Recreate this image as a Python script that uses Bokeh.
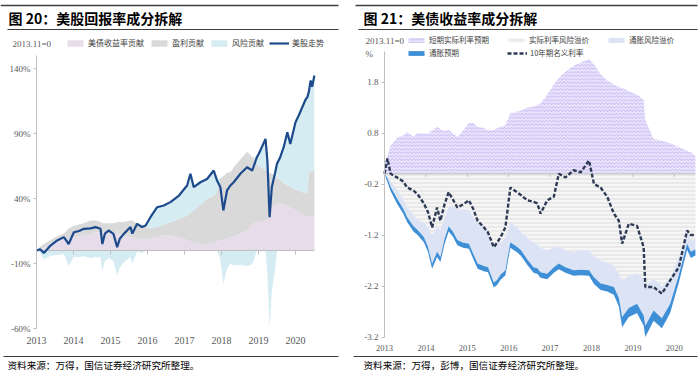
import numpy as np
from bokeh.plotting import figure
from bokeh.models import (Range1d, FixedTicker, PrintfTickFormatter, Label, Legend,
                          LegendItem, Arrow, LinearAxis)
from bokeh.layouts import row
from bokeh.embed import file_html
from bokeh.resources import INLINE

YEARS = [2013, 2014, 2015, 2016, 2017, 2018, 2019, 2020]

# ---------------- 图20 美股回报率成分拆解 (2013.11=0, %) ----------------
eq_t = [2013.00, 2013.10, 2013.20, 2013.38, 2013.56, 2013.74, 2013.87, 2014.01, 2014.15, 2014.28,
        2014.46, 2014.60, 2014.73, 2014.78, 2014.85, 2014.95, 2015.08, 2015.18, 2015.25, 2015.36,
        2015.54, 2015.59, 2015.72, 2015.85, 2015.95, 2016.08, 2016.26, 2016.44, 2016.62, 2016.85,
        2017.07, 2017.16, 2017.25, 2017.43, 2017.61, 2017.79, 2017.88, 2017.97, 2018.05, 2018.15,
        2018.24, 2018.33, 2018.51, 2018.69, 2018.83, 2018.96, 2019.01, 2019.19, 2019.24, 2019.30,
        2019.36, 2019.45, 2019.50, 2019.59, 2019.68, 2019.78, 2019.86, 2020.00, 2020.09, 2020.18,
        2020.27, 2020.32, 2020.36, 2020.41, 2020.45, 2020.51]
eq_stock = [0, 1, -2, 3.8, 7.7, 10.3, 5, 14, 15, 16.7,
            17, 18, 16.7, 5, 13, 15.4, 12.8, 2.6, 9, 12.8,
            18, 13, 20.5, 18, 19.2, 25.6, 33.3, 34.6, 37.2, 42.3,
            50, 59, 48.7, 52.5, 55, 61.5, 53.8, 48.7, 30.8, 46.2,
            50, 52.5, 59, 64, 61.5, 72, 74.4, 85.9, 69, 25.6,
            48.7, 60, 66.7, 72, 79.5, 91, 82, 98.7, 104, 110,
            116, 118, 122, 130.8, 126, 134.6]
eq_bond = [0, 1, 2, 5, 7, 8, 9, 10, 11, 12,
           13, 14, 14, 14, 14, 13.5, 13, 13, 12.5, 12,
           10, 10, 9.5, 9, 9, 9.5, 10, 11.5, 11.5, 10,
           8, 7, 6, 5, 5, 6, 7, 7.7, 8, 9,
           10, 11, 12.5, 16, 20, 22, 22, 23, 24, 30,
           33, 35, 35.5, 36, 35.5, 34.5, 33, 31, 29, 27.5,
           26, 25.6, 26, 26, 26.5, 27]
eq_earn = [0, 2, 3, 3, 4, 5, 8, 9, 9, 9,
           10, 9, 8, 7, 7, 7.5, 8, 9, 9.5, 10,
           13, 13, 11.5, 11, 9, 7.5, 8, 8.5, 10.5, 14,
           19, 22, 25, 30, 35, 36, 38, 48, 49, 51,
           50, 53, 57.5, 60, 52, 45, 43, 39, 37, 30,
           26, 22, 20.5, 18, 16.5, 15.5, 16, 16, 17, 17.5,
           18, 18.4, 34, 35, 34.5, 35]
eq_risk = [0, -2, -7, -4, -3.5, -2.5, -12, -5, -5, -4.5,
           -6, -5, -5.5, -16, -8, -5.5, -8, -19.5, -13, -9,
           -5, -10, -0.5, -2, 0, 8.6, 15.3, 14.6, 15.2, 18.3,
           23, 30, 17.7, 17.5, 15, 19.5, 8.8, -7, -26, -14,
           -10, -11.5, -11, -12, -10.5, 5, 9.4, 23.9, -18, -59,
           -31, -15, 10.7, 18, 27.5, 41, 33, 51.7, 58, 65,
           72, 74, 62, 69.8, 65, 72.6]
eq_ticks = [-60, -10, 40, 90, 140]

# ---------------- 图21 美债收益率成分拆解 (2013.11=0, %) ----------------
ust_t = [2013.0, 2013.07, 2013.15, 2013.3, 2013.45, 2013.55, 2013.7, 2013.8, 2013.95,
         2014.05, 2014.15, 2014.27, 2014.35, 2014.45, 2014.55, 2014.65, 2014.76, 2014.9,
         2015.04, 2015.15, 2015.25, 2015.4, 2015.5, 2015.64, 2015.72, 2015.8, 2015.92,
         2016.04, 2016.2, 2016.3, 2016.45, 2016.6, 2016.69, 2016.77, 2016.93,
         2017.09, 2017.21, 2017.37, 2017.57, 2017.74, 2017.94,
         2018.06, 2018.22, 2018.38, 2018.54, 2018.66, 2018.74, 2018.9,
         2019.1, 2019.26, 2019.3, 2019.5, 2019.7, 2019.9,
         2020.11, 2020.31, 2020.4, 2020.51]
ust_real_exp = [0.2, 0.35, 0.55, 0.7, 0.75, 0.82, 0.72, 0.8, 0.8,
                0.78, 0.85, 0.92, 0.88, 0.84, 0.86, 0.8, 0.72, 0.85,
                1.0, 1.0, 0.92, 0.9, 0.85, 0.86, 0.9, 0.92, 0.95,
                1.18, 1.22, 1.24, 1.3, 1.32, 1.35, 1.38, 1.55,
                1.75, 1.88, 2.0, 2.12, 2.18, 2.25,
                2.15, 1.95, 1.83, 1.75, 1.7, 1.68, 1.62,
                1.55, 1.45, 1.05, 0.68, 0.65, 0.6,
                0.52, 0.45, 0.42, 0.35]
ust_real_prem = [0, -0.05, -0.15, -0.3, -0.5, -0.65, -0.8, -0.9, -0.95,
                 -1.05, -1.2, -1.05, -1.1, -0.85, -0.65, -0.62, -0.7, -0.7,
                 -0.7, -0.85, -0.95, -1.05, -1.1, -1.45, -1.4, -1.35, -1.25,
                 -0.95, -1.05, -1.15, -1.25, -1.35, -1.38, -1.45, -1.5,
                 -1.45, -1.42, -1.5, -1.55, -1.5, -1.5,
                 -1.6, -1.7, -1.75, -1.8, -1.95, -2.1, -2.0,
                 -1.95, -2.05, -2.2, -2.05, -2.2, -2.05,
                 -1.65, -1.15, -1.3, -1.3]
ust_infl_prem = [0, -0.03, -0.11, -0.18, -0.18, -0.2, -0.23, -0.2, -0.29,
                 -0.38, -0.56, -0.48, -0.53, -0.43, -0.38, -0.51, -0.6, -0.65,
                 -0.67, -0.73, -0.81, -0.76, -0.73, -0.68, -0.68, -0.63, -0.64,
                 -0.39, -0.38, -0.35, -0.43, -0.48, -0.47, -0.48, -0.46,
                 -0.38, -0.34, -0.33, -0.34, -0.38, -0.39,
                 -0.43, -0.45, -0.43, -0.42, -0.48, -0.71, -0.63,
                 -0.6, -0.73, -0.78, -0.63, -0.63, -0.5,
                 -0.33, -0.22, -0.23, -0.18]
ust_infl_exp = [0, -0.08, -0.08, -0.1, -0.1, -0.1, -0.1, -0.1, -0.1,
                -0.1, -0.1, -0.1, -0.1, -0.1, -0.1, -0.1, -0.1, -0.1,
                -0.1, -0.1, -0.1, -0.1, -0.1, -0.1, -0.1, -0.1, -0.1,
                -0.11, -0.11, -0.11, -0.11, -0.11, -0.11, -0.11, -0.11,
                -0.11, -0.11, -0.11, -0.11, -0.11, -0.11,
                -0.13, -0.13, -0.13, -0.15, -0.17, -0.2, -0.18,
                -0.18, -0.2, -0.22, -0.2, -0.2, -0.18,
                -0.15, -0.12, -0.12, -0.12]
ust_nominal = [0.0, 0.3, 0.0, -0.07, -0.15, -0.27, -0.33, -0.4, -0.58,
               -0.75, -1.05, -0.66, -0.92, -0.6, -0.36, -0.5, -0.66, -0.6,
               -0.52, -0.7, -0.92, -1.05, -1.15, -1.44, -1.35, -1.25, -1.05,
               -0.27, -0.36, -0.42, -0.52, -0.55, -0.58, -0.78, -0.52,
               -0.45, 0.0, -0.07, 0.07, 0.03, 0.26,
               -0.2, -0.27, -0.45, -0.78, -0.92, -1.37, -0.98,
               -1.02, -1.44, -2.22, -2.22, -2.35, -2.09,
               -1.83, -1.11, -1.2, -1.2]
ust_ticks = [-3.2, -2.2, -1.2, -0.2, 0.8, 1.8]

CJK = "Noto Sans CJK SC"
NARROW = "Liberation Sans Narrow"
H = 372
AXIS_GRAY = "#bfbfbf"
TXT_GRAY = "#595959"
RULE = "#404040"


class Panel:
    """Figure whose frame fills the whole canvas; x0px/y0px = canvas pixel of (2013, 0)."""

    def __init__(self, width, x0px, ppx, y0px, ppy):
        self.w, self.x0px, self.ppx, self.y0px, self.ppy = width, x0px, ppx, y0px, ppy
        self.p = figure(width=width, height=H, output_backend="svg", toolbar_location=None,
                        x_range=Range1d(self.X(0), self.X(width)),
                        y_range=Range1d(self.Y(H), self.Y(0)),
                        x_axis_location=None, y_axis_location=None,
                        min_border=0, min_border_left=0, min_border_right=0,
                        min_border_top=0, min_border_bottom=0)
        self.p.outline_line_color = None
        self.p.grid.visible = False

    def X(self, px):
        return 2013.0 + (px - self.x0px) / self.ppx

    def Y(self, py):
        return (self.y0px - py) / self.ppy

    def text(self, px, py, s, size, font=CJK, style="normal", color="#000000"):
        self.p.add_layout(Label(x=self.X(px), y=self.Y(py), text=s, text_font=font,
                                text_font_size=size, text_font_style=style,
                                text_color=color, text_baseline="middle",
                                text_align="left"))

    def rule(self, px0, px1, py, color=RULE, width=1.0):
        self.p.add_layout(Arrow(end=None, x_start=self.X(px0), y_start=self.Y(py),
                                x_end=self.X(px1), y_end=self.Y(py),
                                line_color=color, line_width=width))

    def axes(self, ybounds, yticks, yfmt, x_end, tick_len_px, xlabel_size, xstandoff):
        ay = LinearAxis(fixed_location=2013.0, bounds=ybounds,
                        ticker=FixedTicker(ticks=yticks),
                        formatter=PrintfTickFormatter(format=yfmt),
                        axis_line_color=AXIS_GRAY, major_tick_line_color=AXIS_GRAY,
                        major_tick_in=0, major_tick_out=3, minor_tick_line_color=None,
                        major_label_text_font=NARROW, major_label_text_font_size="9px",
                        major_label_text_color=TXT_GRAY, major_label_standoff=3)
        self.p.add_layout(ay, "left")
        ax = LinearAxis(fixed_location=ybounds[0], ticker=FixedTicker(ticks=YEARS),
                        formatter=PrintfTickFormatter(format="%d"),
                        axis_line_color=None, major_tick_line_color=None,
                        major_tick_in=0, major_tick_out=0, minor_tick_line_color=None,
                        major_label_text_font=NARROW, major_label_text_font_size=xlabel_size,
                        major_label_text_color=TXT_GRAY, major_label_standoff=xstandoff)
        self.p.add_layout(ax, "below")
        # zero line with downward year ticks
        tl = tick_len_px / self.ppy
        self.p.segment(x0=[2013.0], x1=[x_end], y0=[0], y1=[0], line_color=AXIS_GRAY,
                       line_width=1)
        self.p.segment(x0=YEARS[1:], x1=YEARS[1:], y0=[0] * 7, y1=[-tl] * 7,
                       line_color=AXIS_GRAY, line_width=1)

    def legend(self, items, px, py_bottom, gh, size, spacing):
        lg = Legend(items=items, location=(px, H - py_bottom), orientation="horizontal",
                    glyph_width=20, glyph_height=gh, label_height=10, label_standoff=3,
                    label_text_font=CJK, label_text_font_size=size,
                    label_text_color="#404040", spacing=spacing, padding=0, margin=0,
                    border_line_color=None, background_fill_alpha=0)
        self.p.add_layout(lg)


# ---------------- left figure (page x 0..350) ----------------
L = Panel(350, 36, 37.0, 250, 1.3)
pl = L.p
t = np.array(eq_t)
b = np.array(eq_bond)
e = np.array(eq_earn)
r = np.array(eq_risk)
be = b + e
r_bond = pl.varea(x=t, y1=np.zeros_like(t), y2=b, fill_color="#e6dcea")
r_earn = pl.varea(x=t, y1=b, y2=be, fill_color="#d9d9d9")
r_risk = pl.varea(x=t, y1=be, y2=be + np.clip(r, 0, None), fill_color="#d4ecf2")
pl.varea(x=t, y1=np.clip(r, None, 0), y2=np.zeros_like(t), fill_color="#d4ecf2")
L.axes((-60, 150), eq_ticks, "%d%%", eq_t[-1], 4, "10px", 8)
r_stock = pl.line(x=eq_t, y=eq_stock, line_color="#1d4a8c", line_width=2.2)

L.legend([LegendItem(label="美债收益率贡献", renderers=[r_bond]),
          LegendItem(label="盈利贡献", renderers=[r_earn]),
          LegendItem(label="风险贡献", renderers=[r_risk]),
          LegendItem(label="美股走势", renderers=[r_stock])],
         65, 48, 8, "8px", 5)
L.rule(0, 338, 5, width=1.3)
L.rule(7, 338, 29)
L.rule(3, 338, 356)
L.text(8, 17, "图 20：美股回报率成分拆解", "14px", style="bold")
L.text(12, 43, "2013.11=0", "9px", font=NARROW, color=TXT_GRAY)
L.text(7, 364, "资料来源：万得，国信证券经济研究所整理。", "9.6px")

# ---------------- right figure (page x 350..700) ----------------
R = Panel(350, 34, 41.4, 173.3, 51.0)
pr = R.p
u = np.array(ust_t)
a = np.array(ust_real_prem)
ab = a + np.array(ust_infl_prem)
abc = ab + np.array(ust_infl_exp)
r_rexp = pr.varea(x=u, y1=np.zeros_like(u), y2=ust_real_exp, fill_color="#ebe5fc",
                  hatch_pattern="horizontal_wave", hatch_color="#a995ee",
                  hatch_scale=3.5, hatch_weight=0.7)
r_rprem = pr.varea(x=u, y1=a, y2=np.zeros_like(u), fill_color="#f6f6f6",
                   hatch_pattern="horizontal_line", hatch_color="#e4e4e4",
                   hatch_scale=4, hatch_weight=1.5)
r_iprem = pr.varea(x=u, y1=ab, y2=a, fill_color="#dbe3f4")
r_iexp = pr.varea(x=u, y1=abc, y2=ab, fill_color="#3f8fd6")
R.axes((-3.2, 2.4), ust_ticks, "%.1f", ust_t[-1], 3, "8.5px", 8)
r_nom = pr.line(x=ust_t, y=ust_nominal, line_color="#2d3a55", line_width=2.4,
                line_dash="4 2")

R.legend([LegendItem(label="短期实际利率预期", renderers=[r_rexp]),
          LegendItem(label="实际利率风险溢价", renderers=[r_rprem]),
          LegendItem(label="通胀风险溢价", renderers=[r_iprem])],
         56, 45, 6, "7.5px", 17)
R.legend([LegendItem(label="通胀预期", renderers=[r_iexp]),
          LegendItem(label="10年期名义利率", renderers=[r_nom])],
         56, 58, 6, "7.5px", 48)
R.rule(5, 347, 5, width=1.3)
R.rule(8, 347, 29)
R.rule(3, 347, 356)
R.text(13, 17, "图 21：美债收益率成分拆解", "14px", style="bold")
R.text(15, 40, "2013.11=0", "9px", font=NARROW, color=TXT_GRAY)
R.text(15, 53, "%", "9px", font=NARROW, color=TXT_GRAY)
R.text(13, 364, "资料来源：万得，彭博，国信证券经济研究所整理。", "9.6px")

layout = row(pl, pr)
open("out.html", "w").write(file_html(layout, INLINE))
